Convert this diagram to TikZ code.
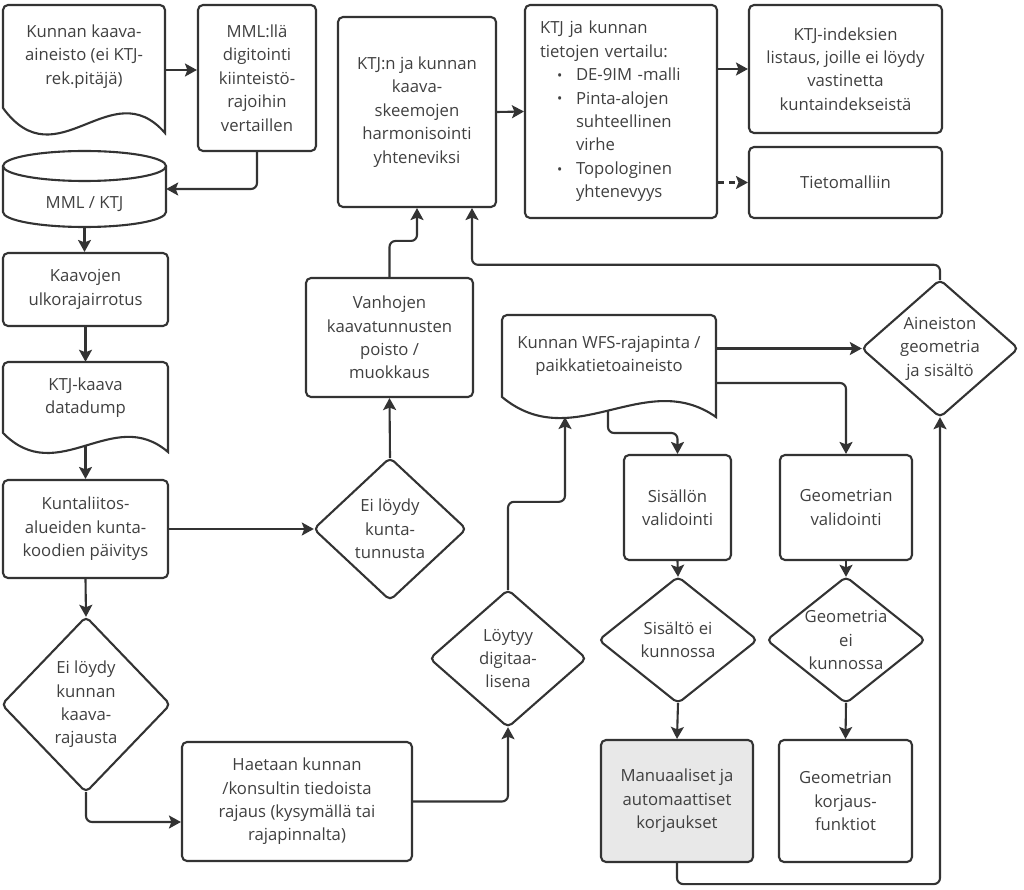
\documentclass[tikz,border=0pt]{standalone}
\usepackage{fontspec}
\setmainfont{Open Sans}
\usetikzlibrary{arrows.meta}
\definecolor{ln}{HTML}{333333}
\definecolor{tx}{HTML}{404040}
\definecolor{gfill}{HTML}{E8E8E8}
\newcommand\fz{\fontsize{16.7}{23.4}\selectfont}
\newcommand\bul{\makebox[36pt][l]{\hspace*{17pt}\raisebox{0.3pt}{\fontsize{14}{14}\selectfont •}}}
\tikzset{
  shp/.style={draw=ln, line width=2.1pt},
  box/.style={shp, rounded corners=5pt, inner sep=0pt, font=\fz, text=tx, align=center},
  lbl/.style={inner sep=0pt, font=\fz, text=tx, align=center},
  arr/.style={draw=ln, line width=2.1pt, rounded corners=6pt, -{Stealth[length=12pt,width=13pt,inset=2.5pt]}},
}
\begin{document}
\begin{tikzpicture}[x=1pt,y=1pt]
\useasboundingbox (0,0) rectangle (1024,-890);

% document shapes and cylinder
\draw[shp, fill=white] (3,-108) [rounded corners=5pt]-- (3,-5) -- (165,-5) [sharp corners]-- (165,-133) .. controls (111,-71) and (57,-182) .. (3,-108) -- cycle;
\draw[shp, fill=white] (3,-433) [rounded corners=5pt]-- (3,-362) -- (168,-362) [sharp corners]-- (168,-452) .. controls (113,-404.5) and (58,-489) .. (3,-433) -- cycle;
\draw[shp, fill=white] (502,-397) [rounded corners=5pt]-- (502,-315) -- (716,-315) [sharp corners]-- (716,-417) .. controls (644.7,-367) and (573.3,-456) .. (502,-397) -- cycle;
\draw[shp, fill=white] (3,-166) -- (3,-212) arc[start angle=180, end angle=360, x radius=81.5, y radius=15] -- (166,-166);
\draw[shp, fill=white] (84.5,-166) ellipse [x radius=81.5, y radius=15];

% nodes
\node[lbl, minimum width=162pt, minimum height=103pt] (doc1) at (84,-56.5) {Kunnan kaava-\\aineisto (ei KTJ-\\rek.pitäjä)};
\node[box, minimum width=118pt, minimum height=146pt] (mml) at (257,-78) {MML:llä\\digitointi\\kiinteistö-\\rajoihin\\vertaillen};
\node[lbl, minimum width=163pt, minimum height=76pt, text height=40pt, text depth=0pt] (db) at (84.5,-189) {MML / KTJ};
\node[box, minimum width=165pt, minimum height=73pt] (ulko) at (85.5,-289.5) {Kaavojen\\ulkorajairrotus};
\node[lbl, minimum width=165pt, minimum height=71pt] (dump) at (85.5,-397.5) {KTJ-kaava\\datadump};
\node[box, minimum width=165pt, minimum height=98pt] (kunta) at (85.5,-529) {Kuntaliitos-\\alueiden kunta-\\koodien päivitys};
\node[lbl, minimum width=168pt, minimum height=175pt] (dkaava) at (86,-704.5) {Ei löydy\\kunnan\\kaava-\\rajausta};
\node[box, minimum width=230pt, minimum height=119pt] (haetaan) at (297,-801.5) {Haetaan kunnan\\/konsultin tiedoista\\rajaus (kysymällä tai\\rajapinnalta)};
\node[lbl, minimum width=156pt, minimum height=137pt] (dloyt) at (508,-658.5) {Löytyy\\digitaa-\\lisena};
\node[lbl, minimum width=152pt, minimum height=142pt] (dkunta) at (390,-529) {Ei löydy\\kunta-\\tunnusta};
\node[box, minimum width=167pt, minimum height=119pt] (vanhat) at (389.5,-337.5) {Vanhojen\\kaavatunnusten\\poisto /\\muokkaus};
\node[box, minimum width=158pt, minimum height=190pt] (harm) at (417,-112) {KTJ:n ja kunnan\\kaava-\\skeemojen\\harmonisointi\\yhteneviksi};
\node[box, align=left, text width=162pt, inner xsep=15pt, minimum height=213pt] (vert) at (621,-111.5) {KTJ ja kunnan\\tietojen vertailu:\\\bul DE-9IM -malli\\\bul Pinta-alojen\\\hspace*{36pt}suhteellinen\\\hspace*{36pt}virhe\\\bul Topologinen\\\hspace*{36pt}yhtenevyys};
\node[box, minimum width=193pt, minimum height=128pt] (list) at (845.5,-69) {KTJ-indeksien\\listaus, joille ei löydy\\vastinetta\\kuntaindekseistä};
\node[box, minimum width=193pt, minimum height=71pt] (tieto) at (845.5,-182.5) {Tietomalliin};
\node[lbl, minimum width=214pt, minimum height=82pt] (wfs) at (609,-356) {Kunnan WFS-rajapinta /\\paikkatietoaineisto};
\node[lbl, minimum width=156pt, minimum height=137pt] (daine) at (940,-348.5) {Aineiston\\geometria\\ja sisältö};
\node[box, minimum width=107pt, minimum height=105pt] (sval) at (677.5,-507.5) {Sisällön\\validointi};
\node[box, minimum width=132pt, minimum height=105pt] (gval) at (846,-507.5) {Geometrian\\validointi};
\node[lbl, minimum width=158pt, minimum height=126pt] (dsis) at (678,-640) {Sisältö ei\\kunnossa};
\node[lbl, minimum width=158pt, minimum height=126pt] (dgeo) at (846,-640) {Geometria\\ei\\kunnossa};
\node[box, fill=gfill, minimum width=152pt, minimum height=122pt] (manu) at (677,-801) {Manuaaliset ja\\automaattiset\\korjaukset};
\node[box, minimum width=133pt, minimum height=122pt] (gkorj) at (845.5,-801) {Geometrian\\korjaus-\\funktiot};

% diamond outlines
\foreach \d in {dkaava,dloyt,dkunta,daine,dsis,dgeo}
  \draw[shp, rounded corners=5pt] (\d.north) -- (\d.east) -- (\d.south) -- (\d.west) -- cycle;

% helper coordinates
\coordinate (d1out) at ([yshift=-13.5pt]doc1.east);
\coordinate (dumpout) at ([yshift=-12pt]dump.south);
\coordinate (hin) at ([yshift=-20.5pt]haetaan.west);
\coordinate (wfsin) at (565,-417);
\coordinate (wfsout) at (608,-410);
\coordinate (wfsout2) at ([yshift=-27pt]wfs.east);
\coordinate (harmin2) at ([xshift=55pt]harm.south);

% connectors
\draw[arr] (d1out) -- (d1out -| mml.west);
\draw[arr] (mml.south) |- (db.east);
\draw[arr] (db.south) -- (db.south |- ulko.north);
\draw[arr] (ulko.south) -- (dump.north);
\draw[arr] (dumpout) -- (kunta.north);
\draw[arr] (kunta.south) -- (dkaava.north);
\draw[arr] (kunta.east) -- (dkunta.west);
\draw[arr] (dkaava.south) |- (hin);
\draw[arr] (haetaan.east) -| (dloyt.south);
\draw[arr] (dloyt.north) |- ++(57,88) -- (wfsin);
\draw[arr] (wfsout) -- ++(0,-23) -| (sval.north);
\draw[arr] (wfs.east |- daine.west) -- (daine.west);
\draw[arr] (wfsout2) -| (gval.north);
\draw[arr] (sval.south) -- (dsis.north);
\draw[arr] (gval.south) -- (dgeo.north);
\draw[arr] (dsis.south) -- (manu.north);
\draw[arr] (dgeo.south) -- (gkorj.north);
\draw[arr] (manu.south) -- ++(0,-21) -| (daine.south);
\draw[arr] (daine.north) -- ++(0,15) -| (harmin2);
\draw[arr] (vanhat.north) |- ++(27.5,36) -- (harm.south);
\draw[arr] (dkunta.north) -- (vanhat.south);
\draw[arr] (harm.east) -- (vert.west);
\draw[arr] (vert.east |- list.west) -- (list.west);
\draw[arr, dash pattern=on 6pt off 5pt] (vert.east |- tieto.west) -- (tieto.west);
\end{tikzpicture}
\end{document}
